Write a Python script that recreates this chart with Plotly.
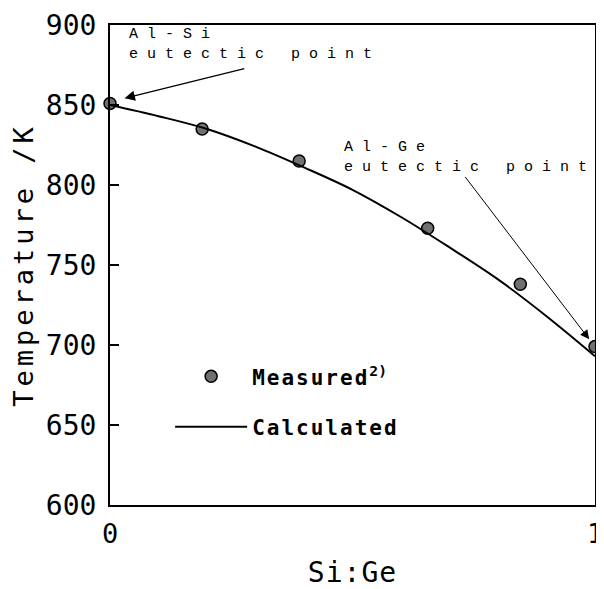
import plotly.graph_objects as go

# ---- data ----
x_measured = [0.0, 0.19, 0.39, 0.655, 0.846, 1.0]
t_measured = [851, 835, 815, 773, 738, 699]

x_calc = [0.0, 0.1, 0.2, 0.3, 0.4, 0.5, 0.6, 0.7, 0.8, 0.9, 1.0]
t_calc = [850, 843, 835, 824, 811, 797, 780, 761, 741, 718, 693]

y_tick_vals = [600, 650, 700, 750, 800, 850, 900]
x_tick_vals = [0, 1]
x_tick_labels = ["0", "1"]

name_measured = "Measured"
name_calculated = "Calculated"

MONO = "DejaVu Sans Mono"
TYPE = "Liberation Mono"


def spaced(text, px):
    return f'<span style="letter-spacing:{px}px">{text}</span>'


fig = go.Figure()

fig.add_trace(go.Scatter(
    x=x_measured, y=t_measured, mode="markers",
    marker=dict(symbol="circle", size=12, color="#707070", line=dict(color="black", width=1.5)),
    name=spaced(name_measured, 2) + "<sup><b>2)</b></sup>", legendgroup="a", legendrank=1,
    cliponaxis=False,
))
fig.add_trace(go.Scatter(
    x=x_calc, y=t_calc, mode="lines", line=dict(color="black", width=2, shape="spline"),
    name=spaced(name_calculated, 2), legendgroup="b", legendrank=2, cliponaxis=False,
))

ann_font = dict(family=TYPE, size=15, color="black")

annotations = [
    dict(x=0.0345, y=888, xref="x", yref="y", xanchor="left", yanchor="middle", align="left",
         showarrow=False, text=spaced("Al-Si", 9) + "<br>" + spaced("eutectic point", 9), font=ann_font),
    dict(x=0.479, y=817, xref="x", yref="y", xanchor="left", yanchor="middle", align="left",
         showarrow=False, text=spaced("Al-Ge", 9) + "<br>" + spaced("eutectic point", 9), font=ann_font),
    dict(x=0.030, y=854.2, ax=0.280, ay=872.9, xref="x", yref="y", axref="x", ayref="y",
         text="", showarrow=True, arrowhead=2, arrowsize=1.6, arrowwidth=1.3, arrowcolor="black", standoff=0),
    dict(x=0.988, y=703.6, ax=0.730, ay=806, xref="x", yref="y", axref="x", ayref="y",
         text="", showarrow=True, arrowhead=2, arrowsize=1.8, arrowwidth=1.0, arrowcolor="black", standoff=0),
]

fig.update_layout(
    width=596, height=581,
    margin=dict(l=102, r=1, t=12, b=72),
    paper_bgcolor="white", plot_bgcolor="white",
    showlegend=True,
    legend=dict(
        x=0.124, y=0.31, xanchor="left", yanchor="top",
        traceorder="grouped", tracegroupgap=20, itemwidth=72,
        font=dict(family=MONO, size=21, color="black", weight="bold"),
        bgcolor="rgba(0,0,0,0)",
    ),
    annotations=annotations,
    xaxis=dict(
        range=[0, 1], showgrid=False, zeroline=False,
        showline=True, linecolor="black", linewidth=2, mirror=True,
        ticks="", tickmode="array", tickvals=x_tick_vals, ticktext=x_tick_labels,
        tickfont=dict(family=MONO, size=27, color="black"),
        ticklabelstandoff=4, ticklabeloverflow="allow",
        title=dict(text=spaced("Si:Ge", 1), font=dict(family=MONO, size=28, color="black"), standoff=19),
    ),
    yaxis=dict(
        range=[600, 900], showgrid=False, zeroline=False,
        showline=True, linecolor="black", linewidth=2, mirror=True,
        ticks="inside", ticklen=9, tickwidth=1.5, tickcolor="black",
        tickmode="array", tickvals=y_tick_vals,
        tickfont=dict(family=MONO, size=28, color="black"),
        ticklabelstandoff=6, ticklabeloverflow="allow",
        title=dict(text=spaced("Temperature /K", 4), font=dict(family=MONO, size=27, color="black"), standoff=6),
    ),
)

fig.write_html("out.html")
